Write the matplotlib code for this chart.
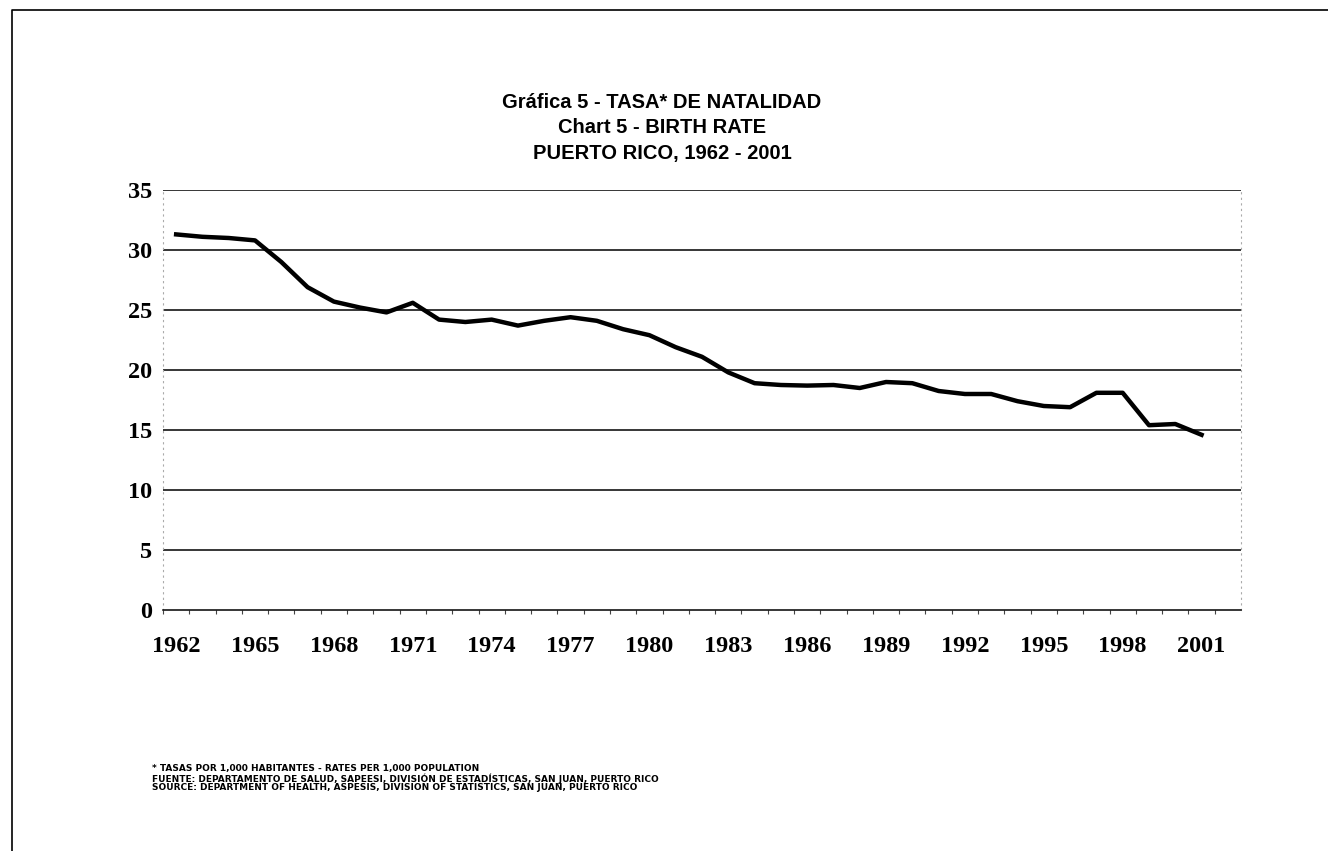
import numpy as np
import matplotlib.pyplot as plt
from matplotlib.lines import Line2D

# ── data ────────────────────────────────────────────────────────────────────
years = list(range(1962, 2002))
birth_rate = [31.3, 31.1, 31.0, 30.8, 29.0, 26.9, 25.7, 25.2, 24.8, 25.6,
              24.2, 24.0, 24.2, 23.7, 24.1, 24.4, 24.1, 23.4, 22.9, 21.9,
              21.1, 19.8, 18.9, 18.75, 18.7, 18.75, 18.5, 19.0, 18.9, 18.25,
              18.0, 18.0, 17.4, 17.0, 16.9, 18.1, 18.1, 15.4, 15.5, 14.6]
year_labels = [1962, 1965, 1968, 1971, 1974, 1977, 1980, 1983, 1986, 1989,
               1992, 1995, 1998, 2001]
y_ticks = [0, 5, 10, 15, 20, 25, 30, 35]

title_lines = ["Gráfica 5 - TASA* DE NATALIDAD",
               "Chart 5 - BIRTH RATE",
               "PUERTO RICO, 1962 - 2001"]
notes = ["* TASAS POR 1,000 HABITANTES - RATES PER 1,000 POPULATION",
         "FUENTE: DEPARTAMENTO DE SALUD, SAPEESI, DIVISIÓN DE ESTADÍSTICAS, SAN JUAN, PUERTO RICO",
         "SOURCE: DEPARTMENT OF HEALTH, ASPESIS, DIVISION OF STATISTICS, SAN JUAN, PUERTO RICO"]

fig = plt.figure(figsize=(13.28, 8.51), dpi=100)
ax = fig.add_axes([163 / 1328, 1 - 610 / 851, 1078 / 1328, 420 / 851])

# ── gridlines + line ────────────────────────────────────────────────────────
for yv in y_ticks[1:]:
    ax.axhline(yv, color="black", linewidth=1.1, zorder=1)
ax.plot(years, birth_rate, color="black", linewidth=3.2, zorder=3,
        solid_joinstyle="round")

ax.set_xlim(years[0] - 0.5, years[-1] + 1.5)
ax.set_ylim(0, 35)

serif = ["Liberation Serif", "DejaVu Serif"]
ax.set_yticks(y_ticks)
ax.set_yticklabels([str(v) for v in y_ticks], fontfamily=serif,
                   fontweight="bold", fontsize=17.5)
ax.set_xticks(year_labels)
ax.set_xticklabels([str(v) for v in year_labels], fontfamily=serif,
                   fontweight="bold", fontsize=17.5)
ax.set_xticks(np.arange(years[0] - 0.5, years[-1] + 1.5, 1), minor=True)
ax.tick_params(axis="x", which="major", length=0, pad=19)
ax.tick_params(axis="x", which="minor", length=3, width=0.8, color="#444")
ax.tick_params(axis="y", length=0, pad=8)

ax.spines["top"].set_visible(False)
ax.spines["bottom"].set_color("black")
ax.spines["bottom"].set_linewidth(1.1)
for side in ("left", "right"):
    ax.spines[side].set_color("#aaaaaa")
    ax.spines[side].set_linewidth(0.8)
    ax.spines[side].set_linestyle((0, (1, 4)))

# ── title ───────────────────────────────────────────────────────────────────
for i, line in enumerate(title_lines):
    fig.text(662 / 1328, 1 - (102 + i * 25.5) / 851, line, ha="center",
             va="center", fontsize=14.5, fontweight="bold",
             fontfamily=["Liberation Sans Narrow", "Liberation Sans", "DejaVu Sans"])

# ── footnotes ───────────────────────────────────────────────────────────────
for i, line in enumerate(notes):
    fig.text(152 / 1328, 1 - (769 + i * 9.5) / 851, line, ha="left",
             va="center", fontsize=6.5, fontweight="bold",
             fontfamily=["DejaVu Sans Condensed", "DejaVu Sans"])

# ── page frame ──────────────────────────────────────────────────────────────
fig.add_artist(Line2D([12 / 1328, 12 / 1328, 1.0], [0.0, 1 - 10 / 851, 1 - 10 / 851],
                      transform=fig.transFigure, color="black", linewidth=1.2))

fig.savefig("out.png", dpi=100, facecolor="white")
